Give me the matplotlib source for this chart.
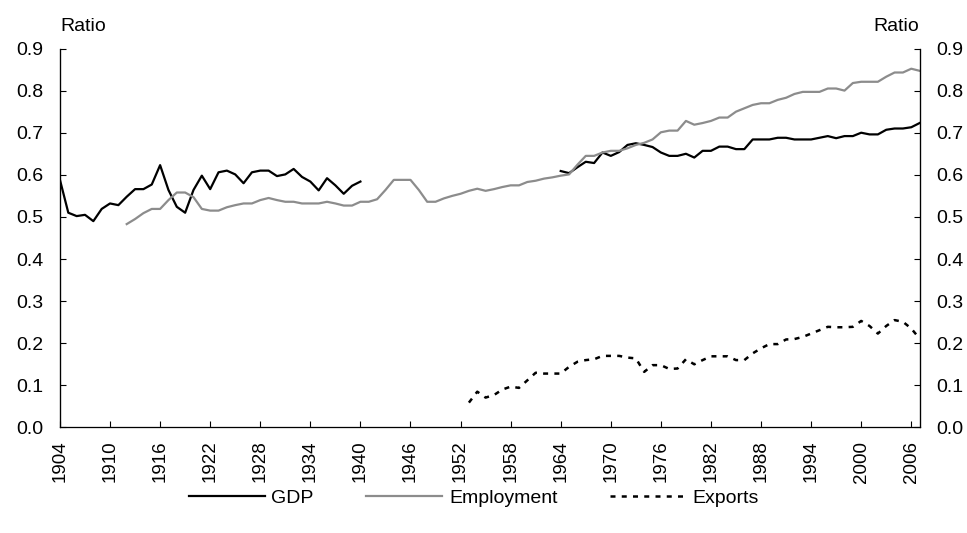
import numpy as np
import matplotlib
matplotlib.use("Agg")
import matplotlib.pyplot as plt

plt.rcParams['font.family'] = ['Liberation Sans', 'DejaVu Sans']

# data
gdp_early_years = np.arange(1904, 1941)
gdp_early = [0.588, 0.510, 0.502, 0.505, 0.490, 0.519, 0.532, 0.528, 0.548, 0.566,
             0.566, 0.577, 0.623, 0.564, 0.524, 0.510, 0.564, 0.598, 0.566, 0.606,
             0.610, 0.601, 0.580, 0.606, 0.610, 0.610, 0.597, 0.601, 0.614, 0.595,
             0.584, 0.563, 0.592, 0.575, 0.555, 0.574, 0.584]

gdp_late_years = np.arange(1964, 2008)
gdp_late = [0.609, 0.604, 0.618, 0.631, 0.628, 0.653, 0.645, 0.654, 0.671, 0.675,
            0.671, 0.666, 0.653, 0.645, 0.645, 0.650, 0.641, 0.657, 0.657, 0.667,
            0.667, 0.661, 0.661, 0.684, 0.684, 0.684, 0.688, 0.688, 0.684, 0.684,
            0.684, 0.688, 0.692, 0.687, 0.692, 0.692, 0.700, 0.696, 0.696, 0.707,
            0.710, 0.710, 0.713, 0.723]

emp_years = np.arange(1912, 2008)
employment = [0.483, 0.495, 0.509, 0.519, 0.519, 0.540, 0.558, 0.558, 0.547, 0.519,
              0.515, 0.515, 0.523, 0.528, 0.532, 0.532, 0.540, 0.545, 0.540, 0.536,
              0.536, 0.532, 0.532, 0.532, 0.536, 0.532, 0.527, 0.527, 0.536, 0.536,
              0.542, 0.564, 0.588, 0.588, 0.588, 0.564, 0.536, 0.536, 0.544, 0.550,
              0.555, 0.562, 0.567, 0.562, 0.566, 0.571, 0.575, 0.575, 0.583, 0.586,
              0.591, 0.594, 0.598, 0.601, 0.624, 0.645, 0.645, 0.653, 0.657, 0.657,
              0.663, 0.671, 0.676, 0.684, 0.701, 0.705, 0.705, 0.728, 0.719, 0.723,
              0.728, 0.736, 0.736, 0.750, 0.758, 0.766, 0.770, 0.770, 0.778, 0.783,
              0.792, 0.797, 0.797, 0.797, 0.805, 0.805, 0.800, 0.818, 0.821, 0.821,
              0.821, 0.833, 0.843, 0.843, 0.852, 0.847]

exp_years = np.arange(1953, 2008)
exports = [0.059, 0.085, 0.071, 0.077, 0.090, 0.097, 0.094, 0.112, 0.130, 0.128,
           0.128, 0.128, 0.144, 0.156, 0.160, 0.162, 0.170, 0.170, 0.170, 0.166,
           0.164, 0.132, 0.148, 0.148, 0.139, 0.140, 0.162, 0.150, 0.160, 0.169,
           0.169, 0.169, 0.160, 0.160, 0.176, 0.188, 0.198, 0.198, 0.209, 0.210,
           0.215, 0.223, 0.231, 0.239, 0.238, 0.238, 0.239, 0.253, 0.241, 0.223,
           0.241, 0.255, 0.251, 0.235, 0.211]

xticks = np.arange(1904, 2007, 6)
yticks = np.arange(0, 0.91, 0.1)

fig = plt.figure(figsize=(9.67, 5.33), dpi=100)
ax = fig.add_axes([0.062, 0.198, 0.889, 0.711])

ax.plot(gdp_early_years, gdp_early, color='black', lw=1.6, label='GDP')
ax.plot(gdp_late_years, gdp_late, color='black', lw=1.6)
ax.plot(emp_years, employment, color='#8c8c8c', lw=1.6, label='Employment')
ax.plot(exp_years, exports, color='black', lw=1.8, linestyle=(0, (2, 2.5)), label='Exports')

ax.set_xlim(1904, 2007)
ax.set_ylim(0, 0.9)
ax.set_xticks(xticks)
ax.set_xticklabels([str(y) for y in xticks], rotation=90, fontsize=13.5)
ax.set_yticks(yticks)
ax.set_yticklabels([f"{v:.1f}" for v in yticks], fontsize=14)
ax.tick_params(direction='in', length=4, width=0.8)
ax.tick_params(axis='x', pad=9.5)
ax.tick_params(axis='y', pad=12)
ax.spines['top'].set_visible(False)
for s in ['left', 'right', 'bottom']:
    ax.spines[s].set_linewidth(0.9)
ax.spines['bottom'].set_color('#555555')

ax2 = ax.twinx()
ax2.set_ylim(0, 0.9)
ax2.set_yticks(yticks)
ax2.set_yticklabels([f"{v:.1f}" for v in yticks], fontsize=14)
ax2.tick_params(direction='in', length=4, width=0.8, pad=12)
ax2.spines['top'].set_visible(False)

fig.text(0.062, 0.95, 'Ratio', fontsize=14, ha='left', va='center')
fig.text(0.951, 0.95, 'Ratio', fontsize=14, ha='right', va='center')

fig.legend(loc='center', bbox_to_anchor=(0.49, 0.066), ncol=3, frameon=False,
           fontsize=14, handlelength=3.9, columnspacing=2.7, handletextpad=0.35)

fig.savefig('out.png', dpi=100)
